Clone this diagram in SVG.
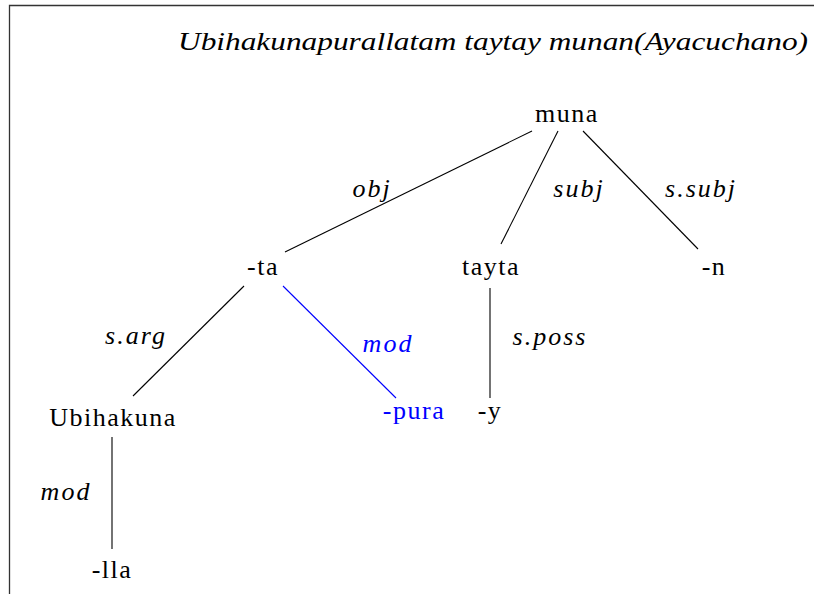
<svg xmlns="http://www.w3.org/2000/svg" width="814" height="594" viewBox="0 0 814 594">
<style>
text{font-family:'Liberation Serif','DejaVu Serif',serif;font-size:26px;fill:#000;text-anchor:middle;letter-spacing:1.5px}
.lab{font-style:italic;letter-spacing:2px}
.blue{fill:#0000ff}
.e{stroke:#000;stroke-width:1.1;fill:none}
.eb{stroke:#0000ff;stroke-width:1.1;fill:none}
</style>
<rect width="814" height="594" fill="#fff"/>
<path d="M9.5,594 V5.5 H814" stroke="#333" stroke-width="1.3" fill="none"/>
<text x="493" y="50" class="lab" font-size="24" style="letter-spacing:0" textLength="630" lengthAdjust="spacingAndGlyphs">Ubihakunapurallatam taytay munan(Ayacuchano)</text>
<g id="connectors">
<line class="e" x1="532" y1="131" x2="285" y2="252"/>
<line class="e" x1="558" y1="131" x2="501" y2="244"/>
<line class="e" x1="583" y1="131" x2="698" y2="249"/>
<line class="e" x1="244" y1="286" x2="133" y2="396"/>
<line class="eb" x1="283" y1="286" x2="396" y2="398"/>
<line class="e" x1="490" y1="288" x2="490" y2="398"/>
<line class="e" x1="112" y1="437" x2="112" y2="549"/>
<text x="372" y="197" class="lab">obj</text>
<text x="579" y="197" class="lab">subj</text>
<text x="701" y="197" class="lab">s.subj</text>
<text x="136" y="344" class="lab">s.arg</text>
<text x="388" y="352" class="lab blue">mod</text>
<text x="550" y="345" class="lab">s.poss</text>
<text x="66" y="500" class="lab">mod</text>
</g>
<g id="n-muna"><text x="567" y="122">muna</text></g>
<g id="n-ta"><text x="263" y="275">-ta</text></g>
<g id="n-tayta"><text x="491" y="275">tayta</text></g>
<g id="n-n"><text x="714" y="275">-n</text></g>
<g id="n-ubihakuna"><text x="113" y="426">Ubihakuna</text></g>
<g id="n-pura"><text x="414" y="419" class="blue">-pura</text></g>
<g id="n-y"><text x="490" y="419">-y</text></g>
<g id="n-lla"><text x="112" y="578">-lla</text></g>
</svg>
